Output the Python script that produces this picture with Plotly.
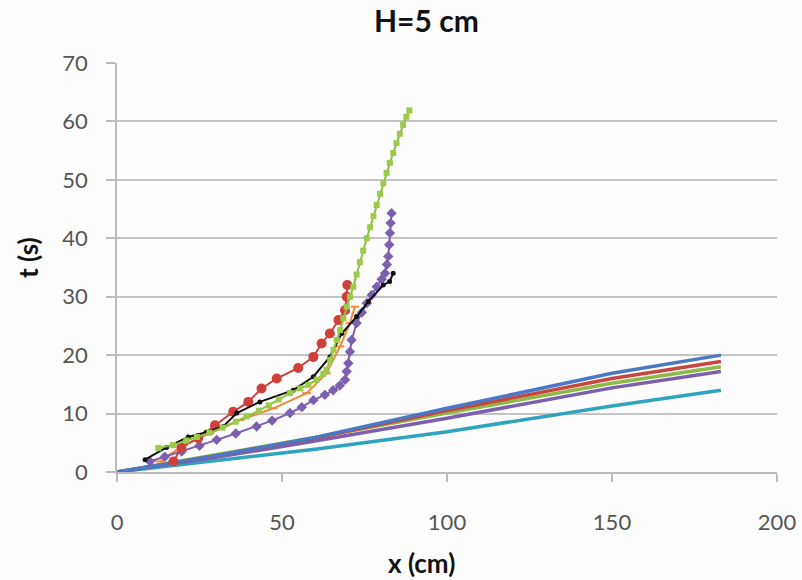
import plotly.graph_objects as go

# ---- data ----
lin_blue_x = [0, 30, 60, 100, 150, 183]
lin_blue_y = [0, 2.8, 5.9, 10.9, 16.9, 20.0]
lin_red_x = [0, 30, 60, 100, 150, 183]
lin_red_y = [0, 2.8, 5.8, 10.5, 16.0, 18.9]
lin_green_x = [0, 30, 60, 100, 150, 183]
lin_green_y = [0, 2.9, 5.9, 10.1, 15.2, 18.0]
lin_purple_x = [0, 30, 60, 100, 150, 183]
lin_purple_y = [0, 2.5, 5.3, 9.2, 14.4, 17.2]
lin_teal_x = [0, 30, 60, 100, 150, 183]
lin_teal_y = [0, 1.9, 3.9, 6.9, 11.3, 14.0]

orange_x = [13.0, 20.1, 28.2, 37.3, 47.4, 57.5, 63.5, 67.6, 70.6, 72.1]
orange_y = [1.8, 4.6, 6.6, 8.9, 10.9, 13.5, 16.9, 21.5, 25.5, 28.3]

purple_x = [10.0, 14.5, 19.6, 25, 30.2, 36, 42.3, 47, 52.4, 56, 59.5, 63, 65.5, 67.5,
            69.1, 69.6, 70.1, 70.6, 71.1, 72.6, 74.2, 75.7, 77.2, 78.7, 80.2, 81.2,
            81.8, 82.2, 82.5, 82.7, 82.9, 83.2]
purple_y = [1.8, 2.6, 3.5, 4.5, 5.5, 6.6, 7.8, 8.8, 10.1, 11.1, 12.3, 13.2, 14.0, 14.8,
            15.8, 17.2, 18.6, 20.6, 22.6, 25.5, 27.3, 28.9, 30.3, 31.7, 33.0, 34.0,
            35.5, 36.9, 38.9, 40.9, 42.6, 44.3]

red_x = [17.1, 19.5, 24.6, 29.7, 35.2, 39.8, 43.8, 48.4, 54.9, 59.5, 62.0, 64.5,
         67.1, 69.1, 69.6, 69.8]
red_y = [1.8, 4.2, 5.8, 8.0, 10.3, 12.0, 14.3, 16.0, 17.8, 19.7, 22.0, 23.7,
         26.0, 27.7, 30.0, 32.0]

black_x = [8.5, 15, 21.6, 27, 32.2, 36.3, 43.3, 53.4, 59.5, 64.5, 68.1, 72.6, 76.2,
           80.7, 82.6, 83.7]
black_y = [2.1, 4.2, 6.0, 6.8, 7.8, 10.1, 12.0, 14.0, 16.3, 19.7, 23.7, 26.6, 29.2,
           32.0, 32.6, 34.0]

green_x = [12.5, 17, 21, 24.2, 28, 32, 36, 39.3, 43, 46, 49, 52.4, 55.5, 58, 60.5,
           62.5, 63.5, 64.6, 65.6, 66.6, 67.6, 68.6, 69.6, 70.6, 71.6, 72.6, 73.6,
           74.6, 75.7, 76.7, 77.7, 78.7, 79.7, 80.7, 81.7, 82.7, 83.7, 84.7, 85.7,
           86.7, 87.7, 88.6]
green_y = [4.1, 4.6, 5.4, 6.0, 6.7, 7.6, 8.6, 9.5, 10.5, 11.4, 12.4, 13.5, 14.3, 14.9,
           15.8, 16.8, 17.5, 19.2, 20.9, 22.6, 24.3, 26.3, 28.3, 30.0, 31.7, 33.8, 35.9,
           37.9, 40.0, 41.9, 43.8, 45.7, 47.6, 49.4, 51.2, 52.9, 54.6, 56.3, 57.9,
           59.4, 60.8, 61.9]

x_ticks = [0, 50, 100, 150, 200]
y_ticks = [0, 10, 20, 30, 40, 50, 60, 70]

fig = go.Figure()

for xs, ys, col in [(lin_teal_x, lin_teal_y, "#2FA4BE"),
                    (lin_purple_x, lin_purple_y, "#7D5FB0"),
                    (lin_green_x, lin_green_y, "#8DBA45"),
                    (lin_red_x, lin_red_y, "#C9463F"),
                    (lin_blue_x, lin_blue_y, "#4A78C4")]:
    fig.add_trace(go.Scatter(x=xs, y=ys, mode="lines",
                             line=dict(color=col, width=3.5),
                             showlegend=False, hoverinfo="skip"))

fig.add_trace(go.Scatter(x=orange_x, y=orange_y, mode="lines+markers",
                         line=dict(color="#F28A35", width=2),
                         marker=dict(symbol="line-ew", size=6, color="#F28A35",
                                     line=dict(color="#F28A35", width=2)),
                         showlegend=False))
fig.add_trace(go.Scatter(x=purple_x, y=purple_y, mode="lines+markers",
                         line=dict(color="#7D5FB0", width=2),
                         marker=dict(symbol="diamond", size=8, color="#7D5FB0"),
                         showlegend=False))
fig.add_trace(go.Scatter(x=red_x, y=red_y, mode="lines+markers",
                         line=dict(color="#D0403A", width=2),
                         marker=dict(symbol="circle", size=10, color="#D0403A"),
                         showlegend=False))
fig.add_trace(go.Scatter(x=black_x, y=black_y, mode="lines+markers",
                         line=dict(color="#111111", width=2),
                         marker=dict(symbol="circle", size=5, color="#111111"),
                         showlegend=False))
fig.add_trace(go.Scatter(x=green_x, y=green_y, mode="lines+markers",
                         line=dict(color="#8DC040", width=2),
                         marker=dict(symbol="square", size=6, color="#9CCB4C"),
                         showlegend=False))

tickfont = dict(family="Lato, 'Open Sans', sans-serif", size=22, color="#555555")
boldfont = dict(family="Lato, 'Open Sans', sans-serif", color="#111111")

fig.update_layout(
    width=802, height=580,
    margin=dict(l=117, r=25, t=63, b=108, autoexpand=False),
    paper_bgcolor="#FDFDFD", plot_bgcolor="#FDFDFD",
    xaxis=dict(range=[0, 200], tickvals=x_ticks, ticks="outside", ticklen=8,
               tickcolor="#BDBDBD", tickwidth=1.5, showgrid=False, zeroline=False,
               showline=True, linecolor="#BDBDBD", linewidth=1.5, automargin=False,
               tickfont=tickfont, ticklabelstandoff=22),
    yaxis=dict(range=[0, 70], tickvals=y_ticks, ticks="outside", ticklen=9,
               tickcolor="#BDBDBD", tickwidth=1.5, showgrid=True, gridcolor="#C4C4C4",
               gridwidth=1.5, zeroline=False, showline=True, linecolor="#BDBDBD",
               linewidth=1.5, automargin=False, tickfont=tickfont, ticklabelstandoff=14),
    annotations=[
        dict(text="<b>H=5 cm</b>", xref="paper", yref="paper", x=(426 - 117) / 660, y=1,
             xanchor="center", yanchor="middle", yshift=43, showarrow=False,
             font=dict(size=30, **boldfont)),
        dict(text="<b>x (cm)</b>", xref="paper", yref="paper", x=(421 - 117) / 660, y=0,
             xanchor="center", yanchor="middle", yshift=-91, showarrow=False,
             font=dict(size=26, **boldfont)),
        dict(text="<b>t (s)</b>", xref="paper", yref="paper", x=0, xshift=-89,
             y=(472 - 258) / 409, xanchor="center", yanchor="middle", textangle=-90,
             showarrow=False, font=dict(size=26, **boldfont)),
    ],
)

fig.write_html("out.html")
